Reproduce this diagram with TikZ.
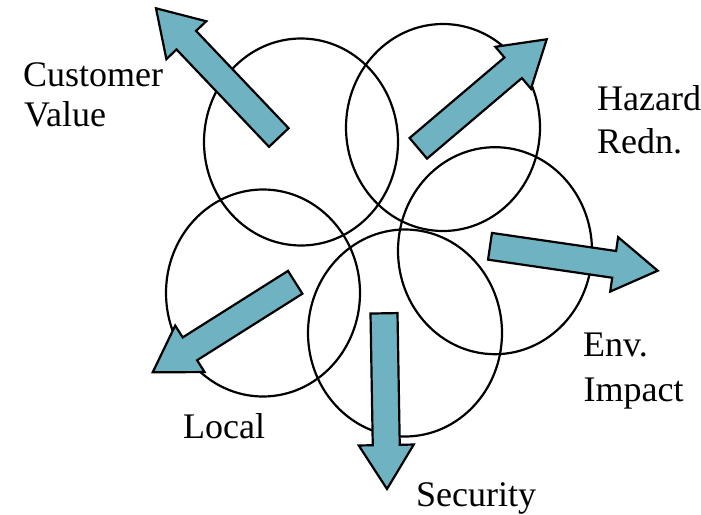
\documentclass[tikz,border=0pt]{standalone}
\usepackage{fontspec}
\setmainfont{Liberation Serif}
\newfontfamily\labelfont{Liberation Serif}
\usetikzlibrary{calc,shapes.geometric}

\definecolor{arrowblue}{RGB}{111,179,195}

% thick block arrow from tail #1 to tip #2
\newcommand{\fatarrow}[2]{%
  \coordinate (base) at ($(#2)!44pt!(#1)$);
  \draw[fat arrow] ($(#1)!13.5pt!90:(#2)$) -- ($(base)!13.5pt!90:(#2)$)
    -- ($(base)!27.5pt!90:(#2)$) -- (#2) -- ($(base)!27.5pt!-90:(#2)$)
    -- ($(base)!13.5pt!-90:(#2)$) -- ($(#1)!13.5pt!-90:(#2)$) -- cycle;}

\begin{document}
\begin{tikzpicture}[x=1pt,y=-1pt,
  ring/.style={ellipse,draw,line width=2.2pt,minimum width=194pt,minimum height=207pt,inner sep=0pt},
  fat arrow/.style={draw,fill=arrowblue,line width=2.2pt},
  word/.style={anchor=base west,inner sep=0pt,font=\labelfont\fontsize{36}{40}\selectfont}]

  \useasboundingbox (0,0) rectangle (701,514);

  \node[ring] (1) at (301,142) {};
  \node[ring] (2) at (443,127.5) {};
  \node[ring] (3) at (495,250.7) {};
  \node[ring] (4) at (263,293) {};
  \node[ring] (5) at (405,333) {};

  \coordinate (cv tail) at (278.8,137.5);  \coordinate (cv tip) at (156,8.3);
  \coordinate (hz tail) at (418.3,148.3);  \coordinate (hz tip) at (546.7,39.3);
  \coordinate (env tail) at (490,246.3);   \coordinate (env tip) at (657.7,270.7);
  \coordinate (loc tail) at (295.2,282.3); \coordinate (loc tip) at (152.7,372.3);
  \coordinate (sec tail) at (384,313.3);   \coordinate (sec tip) at (387,489);

  \fatarrow{cv tail}{cv tip}
  \fatarrow{hz tail}{hz tip}
  \fatarrow{env tail}{env tip}
  \fatarrow{loc tail}{loc tip}
  \fatarrow{sec tail}{sec tip}

  \node[word] (cv1) at (23,86.7) {Customer};
  \node[word] (cv2) at (24,126) {Value};
  \node[word] (hz1) at (597,110.7) {Hazard};
  \node[word] (hz2) at (597,153.3) {Redn.};
  \node[word] (env1) at (583,356) {Env.};
  \node[word] (env2) at (583.5,401) {Impact};
  \node[word] (loc) at (183,438.3) {Local};
  \node[word] (sec) at (416,506.7) {Security};
\end{tikzpicture}
\end{document}
